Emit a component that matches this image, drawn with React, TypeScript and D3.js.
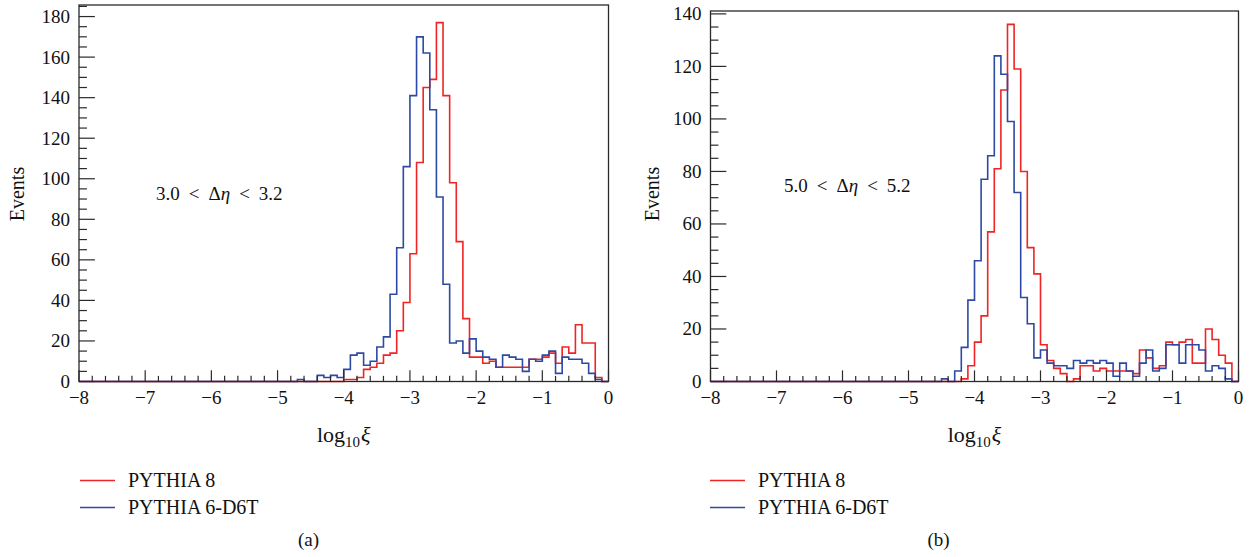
import React from "react";
import * as d3 from "d3";

// Histogram binning: 80 bins of width 0.1 from -8 to 0 (log10 xi)
const BIN_START = -8;
const BIN_WIDTH = 0.1;

// Panel (a): 3.0 < Δη < 3.2
const leftRed = [
  0, 0, 0, 0, 0, 0, 0, 0, 0, 0,
  0, 0, 0, 0, 0, 0, 0, 0, 0, 0,
  0, 0, 0, 0, 0, 0, 0, 0, 0, 0,
  0, 0, 0, 0, 0, 0, 0, 0, 0, 0,
  1, 1, 2, 6, 7, 9, 13, 14, 25, 39,
  63, 108, 145, 149, 177, 141, 98, 69, 31, 12,
  12, 9, 10, 7, 7, 7, 7, 7, 11, 11,
  12, 14, 9, 17, 14, 28, 19, 19, 2, 0,
];
const leftBlue = [
  0, 0, 0, 0, 0, 0, 0, 0, 0, 0,
  0, 0, 0, 0, 0, 0, 0, 0, 0, 0,
  0, 0, 0, 0, 0, 0, 0, 0, 0, 0,
  0, 0, 0, 1, 0, 0, 3, 2, 3, 2,
  6, 13, 14, 8, 10, 17, 22, 43, 66, 106,
  141, 170, 162, 134, 91, 48, 19, 20, 14, 21,
  15, 12, 11, 7, 13, 12, 11, 5, 11, 10,
  13, 15, 4, 12, 11, 11, 9, 4, 1, 0,
];

// Panel (b): 5.0 < Δη < 5.2
const rightRed = [
  0, 0, 0, 0, 0, 0, 0, 0, 0, 0,
  0, 0, 0, 0, 0, 0, 0, 0, 0, 0,
  0, 0, 0, 0, 0, 0, 0, 0, 0, 0,
  0, 0, 0, 0, 0, 0, 0, 0, 1, 6,
  15, 25, 57, 81, 111, 136, 119, 80, 51, 41,
  14, 8, 5, 3, 0, 1, 6, 6, 4, 5,
  4, 4, 4, 4, 3, 12, 9, 5, 6, 15,
  14, 15, 16, 7, 7, 20, 16, 10, 7, 0,
];
const rightBlue = [
  0, 0, 0, 0, 0, 0, 0, 0, 0, 0,
  0, 0, 0, 0, 0, 0, 0, 0, 0, 0,
  0, 0, 0, 0, 0, 0, 0, 0, 0, 0,
  0, 0, 0, 0, 0, 1, 0, 4, 13, 31,
  46, 77, 86, 124, 117, 99, 72, 32, 22, 9,
  12, 7, 6, 6, 5, 8, 7, 8, 7, 8,
  7, 2, 7, 4, 2, 7, 12, 4, 5, 14,
  14, 7, 14, 14, 12, 4, 6, 5, 1, 0,
];

const xTicks = [-8, -7, -6, -5, -4, -3, -2, -1, 0];
const leftYTicks = [0, 20, 40, 60, 80, 100, 120, 140, 160, 180];
const rightYTicks = [0, 20, 40, 60, 80, 100, 120, 140];
const seriesNames = ["PYTHIA 8", "PYTHIA 6-D6T"];
const panelLetters = ["(a)", "(b)"];
const etaLow = ["3.0", "5.0"];
const etaHigh = ["3.2", "5.2"];

const RED = "#f02424";
const BLUE = "#2c4aa3";
const AXIS = "#2a2a2a";
const FONT = "'Liberation Serif', 'Times New Roman', serif";
const fmt = d3.format("d");

type PanelProps = {
  x0: number;
  x1: number;
  yTop: number;
  yBottom: number;
  yMax: number;
  yTicks: number[];
  red: number[];
  blue: number[];
  idx: number;
  annX: number;
  annY: number;
  legendX: number;
  letterX: number;
  eventsX: number;
};

function stepPath(
  values: number[],
  x: d3.ScaleLinear<number, number>,
  y: d3.ScaleLinear<number, number>
) {
  const pts: [number, number][] = [[BIN_START, 0]];
  values.forEach((v, i) => pts.push([BIN_START + i * BIN_WIDTH, v]));
  const end = BIN_START + values.length * BIN_WIDTH;
  pts.push([end, values[values.length - 1]]);
  pts.push([end, 0]);
  return (
    d3
      .line<[number, number]>()
      .x((d) => x(d[0]))
      .y((d) => y(d[1]))
      .curve(d3.curveStepAfter)(pts) || ""
  );
}

function Panel(p: PanelProps) {
  const x = d3.scaleLinear().domain([-8, 0]).range([p.x0, p.x1]);
  const y = d3.scaleLinear().domain([0, p.yMax]).range([p.yBottom, p.yTop]);
  const xMinor = d3.range(-8, 0.0001, 0.2).map((v) => Math.round(v * 10) / 10);
  const yMinor = d3.range(0, p.yMax, 5);
  const plotW = p.x1 - p.x0;
  const plotH = p.yBottom - p.yTop;
  const yMajLen = plotW * 0.03;
  const xMajLen = plotH * 0.03;
  const cx = (p.x0 + p.x1) / 2;
  return (
    <g>
      {/* histograms */}
      <path d={stepPath(p.red, x, y)} fill="none" stroke={RED} strokeWidth={1.6} />
      <path d={stepPath(p.blue, x, y)} fill="none" stroke={BLUE} strokeWidth={1.6} />
      {/* frame */}
      <rect
        x={p.x0}
        y={p.yTop}
        width={plotW}
        height={plotH}
        fill="none"
        stroke={AXIS}
        strokeWidth={1.3}
      />
      {/* x ticks */}
      {xMinor.map((v) => {
        const major = Math.abs(v - Math.round(v)) < 1e-6;
        const len = major ? xMajLen : xMajLen / 2;
        return (
          <line
            key={"xt" + v}
            x1={x(v)}
            x2={x(v)}
            y1={p.yBottom}
            y2={p.yBottom - len}
            stroke={AXIS}
            strokeWidth={1.2}
          />
        );
      })}
      {/* y ticks */}
      {yMinor.map((v) => {
        const major = v % 20 === 0;
        const len = major ? yMajLen : yMajLen / 2;
        return (
          <line
            key={"yt" + v}
            x1={p.x0}
            x2={p.x0 + len}
            y1={y(v)}
            y2={y(v)}
            stroke={AXIS}
            strokeWidth={1.2}
          />
        );
      })}
      {/* tick labels */}
      {xTicks.map((v) => (
        <text
          key={"xl" + v}
          x={x(v)}
          y={404}
          textAnchor="middle"
          fontFamily={FONT}
          fontSize={19}
          fill="#111"
        >
          {fmt(v)}
        </text>
      ))}
      {p.yTicks.map((v) => (
        <text
          key={"yl" + v}
          x={p.x0 - 9}
          y={y(v) + 6.5}
          textAnchor="end"
          fontFamily={FONT}
          fontSize={19}
          fill="#111"
        >
          {fmt(v)}
        </text>
      ))}
      {/* axis titles */}
      <text
        transform={`translate(${p.eventsX},194) rotate(-90)`}
        textAnchor="middle"
        dominantBaseline="central"
        fontFamily={FONT}
        fontSize={20}
        fill="#111"
      >
        Events
      </text>
      <text x={cx} y={442} textAnchor="middle" fontFamily={FONT} fontSize={22} fill="#111">
        log
        <tspan fontSize={15} dy={5}>
          10
        </tspan>
        <tspan dy={-5} dx={1} fontStyle="italic">
          ξ
        </tspan>
      </text>
      {/* annotation */}
      <text x={p.annX} y={p.annY} fontFamily={FONT} fontSize={19} fill="#111">
        <tspan>{etaLow[p.idx]}</tspan>
        <tspan dx={9}>{"<"}</tspan>
        <tspan dx={9}>Δ</tspan>
        <tspan fontStyle="italic">η</tspan>
        <tspan dx={9}>{"<"}</tspan>
        <tspan dx={9}>{etaHigh[p.idx]}</tspan>
      </text>
      {/* legend */}
      <line x1={p.legendX} x2={p.legendX + 35} y1={480.5} y2={480.5} stroke={RED} strokeWidth={1.6} />
      <line x1={p.legendX} x2={p.legendX + 35} y1={507.5} y2={507.5} stroke={BLUE} strokeWidth={1.6} />
      <text x={p.legendX + 48} y={487} fontFamily={FONT} fontSize={20} fill="#111">
        {seriesNames[0]}
      </text>
      <text x={p.legendX + 48} y={513.5} fontFamily={FONT} fontSize={20} fill="#111">
        {seriesNames[1]}
      </text>
      <text x={p.letterX} y={546} textAnchor="middle" fontFamily={FONT} fontSize={19} fill="#111">
        {panelLetters[p.idx]}
      </text>
    </g>
  );
}

export default function App() {
  return (
    <svg
      width={1254}
      height={557}
      style={{ position: "absolute", left: 0, top: 0, background: "#fff" }}
    >
      <rect x={0} y={0} width={1254} height={557} fill="#fff" />
      <Panel
        x0={79}
        x1={608.5}
        yTop={5}
        yBottom={381.5}
        yMax={185.7}
        yTicks={leftYTicks}
        red={leftRed}
        blue={leftBlue}
        idx={0}
        annX={156}
        annY={200}
        legendX={80}
        letterX={308.5}
        eventsX={17}
      />
      <Panel
        x0={710.5}
        x1={1238.5}
        yTop={11}
        yBottom={381.5}
        yMax={141.1}
        yTicks={rightYTicks}
        red={rightRed}
        blue={rightBlue}
        idx={1}
        annX={784}
        annY={192}
        legendX={710}
        letterX={938.5}
        eventsX={651.5}
      />
    </svg>
  );
}
